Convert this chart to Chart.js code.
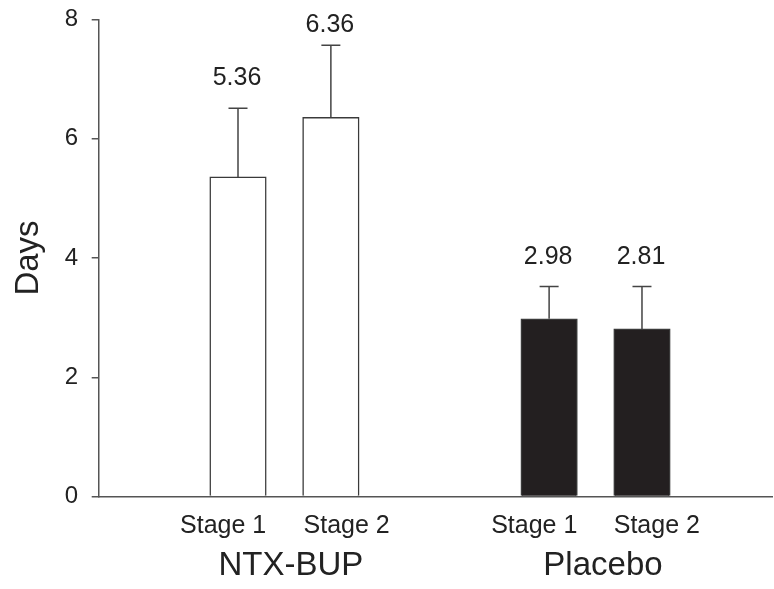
<!DOCTYPE html>
<html>
<head>
<meta charset="utf-8">
<script src="https://cdn.jsdelivr.net/npm/chart.js@4/dist/chart.umd.min.js"></script>
<style>
  html, body { margin: 0; padding: 0; background: #fff; }
  #wrap { width: 774px; height: 589px; }
</style>
</head>
<body>
<div id="wrap"><canvas id="daysChart" width="774" height="589"></canvas></div>
<script>
// values
const barLabels = ['NTX-BUP Stage 1', 'NTX-BUP Stage 2', 'Placebo Stage 1', 'Placebo Stage 2'];
const barValues = [5.36, 6.36, 2.98, 2.81];
const barErrors = [1.15, 1.21, 0.54, 0.71];
const barPositions = [1, 2, 4.35, 5.35];
const barColors = ['#ffffff', '#ffffff', '#231f20', '#231f20'];

const stageLabels = ['Stage 1', 'Stage 2', 'Stage 1', 'Stage 2'];
const stagePositions = [0.84, 2.17, 4.19, 5.51];
const groupLabels = ['NTX-BUP', 'Placebo'];
const groupPositions = [1.57, 4.93];

const yTicks = [0, 2, 4, 6, 8];

const FONT = "'Liberation Sans', Arial, sans-serif";
const INK = '#222';
const AXIS = '#555';

const errorBars = {
    id: 'errorBars',
    afterDatasetsDraw(chart) {
        const ctx = chart.ctx;
        const xs = chart.scales.x, ys = chart.scales.y;
        ctx.save();
        ctx.strokeStyle = '#444';
        ctx.lineWidth = 1.5;
        barValues.forEach((v, i) => {
            const px = xs.getPixelForValue(barPositions[i]);
            const top = ys.getPixelForValue(v + barErrors[i]);
            const base = ys.getPixelForValue(v);
            ctx.beginPath();
            ctx.moveTo(px, base);
            ctx.lineTo(px, top);
            ctx.moveTo(px - 9.5, top);
            ctx.lineTo(px + 9.5, top);
            ctx.stroke();

            // value label above the error bar
            ctx.fillStyle = INK;
            ctx.font = '25px ' + FONT;
            ctx.textAlign = 'center';
            ctx.textBaseline = 'alphabetic';
            const ly = Math.max(top - 23, 32);
            ctx.fillText(v.toFixed(2), px - 1, ly);
        });
        ctx.restore();
    }
};

const ctx = document.getElementById('daysChart').getContext('2d');
new Chart(ctx, {
    type: 'bar',
    data: {
        labels: barLabels,
        datasets: [{
            data: barValues.map((v, i) => ({ x: barPositions[i], y: v })),
            backgroundColor: barColors,
            borderColor: '#3a3a3a',
            borderWidth: 1.5,
            barThickness: 56.5
        }]
    },
    options: {
        responsive: false,
        animation: false,
        events: [],
        layout: { padding: { top: 19.5, right: 2, left: 0, bottom: 0 } },
        plugins: {
            legend: { display: false },
            tooltip: { enabled: false }
        },
        scales: {
            x: {
                type: 'linear',
                position: 'bottom',
                min: -0.5,
                max: 6.75,
                offset: false,
                weight: 0,
                grid: { display: false, drawTicks: false },
                border: { display: true, color: AXIS, width: 1.5 },
                afterBuildTicks: scale => {
                    scale.ticks = stagePositions.map(v => ({ value: v }));
                },
                afterFit: scale => { scale.height = 45; },
                ticks: {
                    autoSkip: false,
                    maxRotation: 0,
                    padding: 15,
                    color: INK,
                    font: { family: FONT, size: 25 },
                    callback: (value, index) => stageLabels[index]
                }
            },
            x2: {
                type: 'linear',
                position: 'bottom',
                min: -0.5,
                max: 6.75,
                offset: false,
                weight: 1,
                grid: { display: false, drawTicks: false },
                border: { display: false },
                afterBuildTicks: scale => {
                    scale.ticks = groupPositions.map(v => ({ value: v }));
                },
                afterFit: scale => { scale.height = 47.5; },
                ticks: {
                    autoSkip: false,
                    maxRotation: 0,
                    padding: 5,
                    color: INK,
                    font: { family: FONT, size: 33 },
                    callback: (value, index) => groupLabels[index]
                }
            },
            y: {
                min: 0,
                max: 8,
                afterBuildTicks: scale => {
                    scale.ticks = yTicks.map(v => ({ value: v }));
                },
                afterFit: scale => {
                    scale.width = 98.7;
                    scale.paddingTop = 0;
                    scale.paddingBottom = 0;
                },
                grid: {
                    display: true,
                    drawOnChartArea: false,
                    drawTicks: true,
                    tickLength: 7,
                    color: AXIS,
                    lineWidth: 1.5
                },
                border: { display: true, color: AXIS, width: 1.5 },
                ticks: {
                    padding: 13.5,
                    color: INK,
                    font: { family: FONT, size: 24 }
                },
                title: {
                    display: true,
                    text: 'Days',
                    color: INK,
                    font: { family: FONT, size: 33 },
                    padding: { top: 9, bottom: 0 }
                }
            }
        }
    },
    plugins: [errorBars]
});
</script>
</body>
</html>
